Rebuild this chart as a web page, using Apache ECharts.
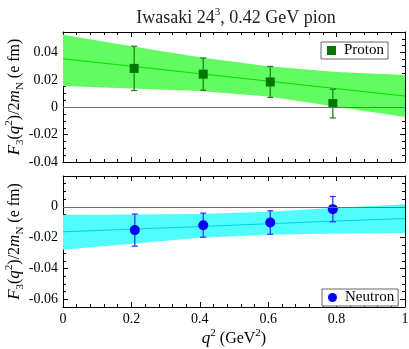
<!DOCTYPE html>
<html>
<head>
<meta charset="utf-8">
<script src="https://cdn.jsdelivr.net/npm/echarts@6/dist/echarts.min.js"></script>
<style>
  html, body { margin: 0; padding: 0; background: #fff; }
  #chart { width: 409px; height: 349px; }
</style>
</head>
<body>
<div id="chart"></div>
<script>
// fit bands
const bandQ = [0, 0.2, 0.4, 0.6, 0.8, 1.0];
const protonFit = [0.0354, 0.0300, 0.0245, 0.0191, 0.0136, 0.0082];
const protonUpper = [0.0530, 0.0445, 0.0365, 0.0300, 0.0257, 0.0235];
const protonLower = [0.0155, 0.0138, 0.0118, 0.0078, 0.0003, -0.0072];
const neutronFit = [-0.0162, -0.0145, -0.0128, -0.0110, -0.0092, -0.0076];
const neutronUpper = [-0.0052, -0.0050, -0.0046, -0.0032, -0.0006, 0.0017];
const neutronLower = [-0.0278, -0.0240, -0.0200, -0.0182, -0.0173, -0.0170];

// lattice points
const protonQ = [0.208, 0.41, 0.606, 0.789];
const protonF = [0.0284, 0.0242, 0.0185, 0.0027];
const protonErr = [0.0162, 0.0118, 0.0113, 0.0105];
const neutronQ = [0.21, 0.41, 0.606, 0.789];
const neutronF = [-0.0151, -0.0119, -0.0102, -0.0015];
const neutronErr = [0.0104, 0.0078, 0.0076, 0.0082];

// tick labels
const topTicks = [-0.04, -0.02, 0, 0.02, 0.04];
const bottomTicks = [-0.06, -0.04, -0.02, 0];

const FONT = "Liberation Serif";

let chart = echarts.init(document.getElementById("chart"));

const pairs = (xs, ys) => xs.map((x, i) => [x, ys[i]]);

function xAxis(grid, pos, showLabel) {
    return {
        gridIndex: grid,
        type: "value",
        position: pos,
        min: 0,
        max: 1,
        interval: 0.2,
        axisLine: { show: true, onZero: false, lineStyle: { color: "#000", width: 1 } },
        axisTick: { show: true, inside: true, length: 5, lineStyle: { color: "#000" } },
        minorTick: { show: true, splitNumber: 5, length: 3, lineStyle: { color: "#000" } },
        axisLabel: { show: showLabel, margin: 5, color: "#000", fontFamily: FONT, fontSize: 14 },
        splitLine: { show: false },
    };
}

// major axis: ticks + labels at given values
function yMajor(grid, pos, min, max, ticks, name) {
    return {
        gridIndex: grid,
        type: "value",
        position: pos,
        min: min,
        max: max,
        name: name || "",
        nameLocation: "middle",
        nameRotate: 90,
        nameGap: 37,
        nameMoveOverlap: false,
        nameTextStyle: {
            color: "#000",
            fontFamily: FONT,
            fontSize: 16,
            lineHeight: 22,
            rich: {
                i: { fontStyle: "italic", fontFamily: FONT, fontSize: 17, lineHeight: 22 },
                sup: { fontFamily: FONT, fontSize: 11, verticalAlign: "top", lineHeight: 22 },
                sub: { fontFamily: FONT, fontSize: 11, verticalAlign: "bottom", lineHeight: 22 },
                n: { fontFamily: FONT, fontSize: 16, lineHeight: 22 },
            },
        },
        axisLine: { show: true, onZero: false, lineStyle: { color: "#000", width: 1 } },
        axisTick: { show: true, inside: true, length: 5, customValues: ticks, lineStyle: { color: "#000" } },
        axisLabel: {
            show: pos === "left",
            customValues: ticks,
            margin: 5,
            color: "#000",
            fontFamily: FONT,
            fontSize: 14,
        },
        splitLine: { show: false },
    };
}

// minor ticks every 0.005
function yMinor(grid, pos, min, max) {
    return {
        gridIndex: grid,
        type: "value",
        position: pos,
        min: min,
        max: max,
        interval: 0.005,
        axisLine: { show: false, onZero: false },
        axisTick: { show: true, inside: true, length: 3, lineStyle: { color: "#000" } },
        axisLabel: { show: false },
        splitLine: { show: false },
    };
}

const yName = "{i|F}{sub|3}({i|q}{sup|2})/2{i|m}{sub|N}{n| (e fm)}";

// error band drawn as one polygon through the axis scales
function bandSeries(xi, yi, lower, upper, color) {
    return {
        type: "custom",
        xAxisIndex: xi,
        yAxisIndex: yi,
        data: bandQ.map((q, i) => [q, lower[i], upper[i]]),
        encode: { x: 0, y: [1, 2] },
        silent: true,
        z: 1,
        renderItem: function (params, api) {
            if (params.dataIndex !== 0) return null;
            const pts = [];
            bandQ.forEach((q, i) => pts.push(api.coord([q, upper[i]])));
            for (let i = bandQ.length - 1; i >= 0; i--) pts.push(api.coord([bandQ[i], lower[i]]));
            return {
                type: "polygon",
                shape: { points: pts },
                style: { fill: color, stroke: null },
            };
        },
    };
}

function fitLine(xi, yi, fit, color) {
    return {
        type: "line",
        xAxisIndex: xi,
        yAxisIndex: yi,
        data: pairs(bandQ, fit),
        showSymbol: false,
        lineStyle: { color: color, width: 1 },
        silent: true,
        z: 2,
        markLine: {
            silent: true,
            symbol: "none",
            label: { show: false },
            lineStyle: { color: "#707070", width: 1, type: "solid" },
            data: [{ yAxis: 0 }],
        },
    };
}

function errorBars(xi, yi, qs, fs, errs, color) {
    return {
        type: "custom",
        xAxisIndex: xi,
        yAxisIndex: yi,
        data: qs.map((q, i) => [q, fs[i] - errs[i], fs[i] + errs[i]]),
        encode: { x: 0, y: [1, 2] },
        z: 3,
        renderItem: function (params, api) {
            const x = api.value(0);
            const lo = api.coord([x, api.value(1)]);
            const hi = api.coord([x, api.value(2)]);
            const w = 3;
            const style = { stroke: color, lineWidth: 1.2 };
            return {
                type: "group",
                children: [
                    { type: "line", shape: { x1: lo[0], y1: lo[1], x2: hi[0], y2: hi[1] }, style: style },
                    { type: "line", shape: { x1: lo[0] - w, y1: lo[1], x2: lo[0] + w, y2: lo[1] }, style: style },
                    { type: "line", shape: { x1: hi[0] - w, y1: hi[1], x2: hi[0] + w, y2: hi[1] }, style: style },
                ],
            };
        },
    };
}

function legend(name, left, top) {
    return {
        data: [name],
        left: left,
        top: top,
        backgroundColor: "#fff",
        borderColor: "#666",
        borderWidth: 1,
        borderRadius: 0,
        padding: [1, 4, 1, 6],
        itemWidth: 9,
        itemHeight: 9,
        itemGap: 0,
        selectedMode: false,
        textStyle: { color: "#000", fontFamily: FONT, fontSize: 15, padding: [0, 0, 0, 3] },
    };
}

let options = {
    backgroundColor: "#fff",
    animation: false,
    title: {
        text: "Iwasaki 24{sup|3}, 0.42 GeV pion",
        left: 231,
        textAlign: "center",
        top: 2,
        textStyle: {
            color: "#222",
            fontFamily: FONT,
            fontSize: 18,
            fontWeight: "normal",
            lineHeight: 22,
            rich: {
                sup: { fontFamily: FONT, fontSize: 11, verticalAlign: "top", lineHeight: 22, color: "#222" },
            },
        },
    },
    legend: [legend("Proton", 321, 42), legend("Neutron", 322, 289)],
    grid: [
        { left: 63, right: 4, top: 32, height: 130, outerBoundsMode: "none" },
        { left: 63, right: 4, top: 176, height: 131, outerBoundsMode: "none" },
    ],
    xAxis: [
        xAxis(0, "bottom", false),
        xAxis(0, "top", false),
        Object.assign(xAxis(1, "bottom", true), {
            name: "{i|q}{sup|2} (GeV{sup|2})",
            nameLocation: "middle",
            nameGap: 21,
            nameMoveOverlap: false,
            nameTextStyle: {
                color: "#000",
                fontFamily: FONT,
                fontSize: 16,
                lineHeight: 22,
                rich: {
                    i: { fontStyle: "italic", fontFamily: FONT, fontSize: 17, lineHeight: 22 },
                    sup: { fontFamily: FONT, fontSize: 11, verticalAlign: "top", lineHeight: 22 },
                },
            },
        }),
        xAxis(1, "top", false),
    ],
    yAxis: [
        yMajor(0, "left", -0.04, 0.055, topTicks, yName),
        yMinor(0, "left", -0.04, 0.055),
        yMajor(0, "right", -0.04, 0.055, topTicks),
        yMinor(0, "right", -0.04, 0.055),
        yMajor(1, "left", -0.065, 0.02, bottomTicks, yName),
        yMinor(1, "left", -0.065, 0.02),
        yMajor(1, "right", -0.065, 0.02, bottomTicks),
        yMinor(1, "right", -0.065, 0.02),
    ],
    series: [
        bandSeries(0, 0, protonLower, protonUpper, "#62fb62"),
        fitLine(0, 0, protonFit, "#00e000"),
        errorBars(0, 0, protonQ, protonF, protonErr, "#1a7a1a"),
        {
            name: "Proton",
            type: "scatter",
            xAxisIndex: 0,
            yAxisIndex: 0,
            symbol: "rect",
            symbolSize: 9,
            itemStyle: { color: "#007800", opacity: 1 },
            data: pairs(protonQ, protonF),
            z: 4,
        },
        bandSeries(2, 4, neutronLower, neutronUpper, "#50fcfc"),
        fitLine(2, 4, neutronFit, "#00d4e4"),
        errorBars(2, 4, neutronQ, neutronF, neutronErr, "#2a2aee"),
        {
            name: "Neutron",
            type: "scatter",
            xAxisIndex: 2,
            yAxisIndex: 4,
            symbol: "circle",
            symbolSize: 10,
            itemStyle: { color: "#0000ff", opacity: 1 },
            data: pairs(neutronQ, neutronF),
            z: 4,
        },
    ],
};
chart.setOption(options);
</script>
</body>
</html>
